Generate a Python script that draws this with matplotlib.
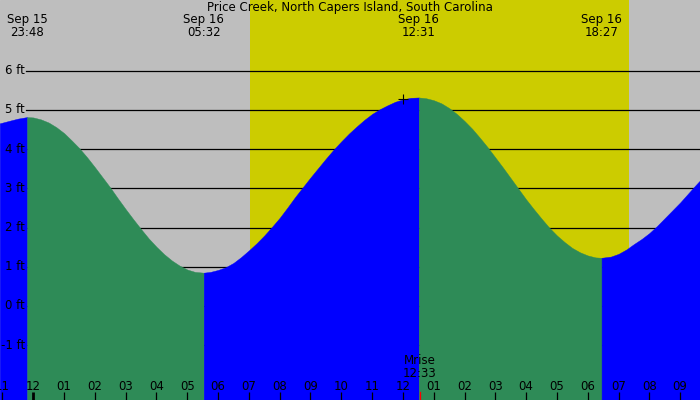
import matplotlib
matplotlib.use("Agg")
import matplotlib.pyplot as plt
import numpy as np

# ---------------------------
# Data
# ---------------------------
title = "Price Creek, North Capers Island, South Carolina"

# tide height (ft) vs hours from Sep 16 00:00
tide_hours = [-1.09, -0.75, -0.5, -0.2, 0.0, 0.25, 0.5, 0.75, 1.0, 1.25, 1.5, 1.75,
              2.0, 2.25, 2.5, 2.75, 3.0, 3.25, 3.5, 3.75, 4.0, 4.25, 4.5, 4.75,
              5.0, 5.25, 5.533,
              5.75, 6.0, 6.25, 6.5, 6.75, 7.0, 7.25, 7.5, 7.75, 8.0, 8.25, 8.5,
              8.75, 9.0, 9.25, 9.5, 9.75, 10.0, 10.25, 10.5, 10.75, 11.0, 11.25,
              11.5, 11.75, 12.0, 12.25, 12.517,
              12.75, 13.0, 13.25, 13.5, 13.75, 14.0, 14.25, 14.5, 14.75, 15.0,
              15.25, 15.5, 15.75, 16.0, 16.25, 16.5, 16.75, 17.0, 17.25, 17.5,
              17.75, 18.0, 18.25, 18.45,
              18.75, 19.0, 19.25, 19.5, 19.75, 20.0, 20.25, 20.5, 20.75, 21.0,
              21.25, 21.5, 21.7]
tide_ft = [4.66, 4.73, 4.78, 4.82, 4.81, 4.76, 4.68, 4.56, 4.41, 4.22, 4.02, 3.79,
           3.54, 3.28, 3.02, 2.74, 2.47, 2.21, 1.96, 1.72, 1.51, 1.32, 1.16, 1.03,
           0.93, 0.87, 0.85,
           0.87, 0.92, 0.99, 1.10, 1.25, 1.42, 1.60, 1.80, 2.02, 2.25, 2.51, 2.78,
           3.03, 3.28, 3.52, 3.76, 3.99, 4.20, 4.40, 4.58, 4.75, 4.90, 5.02,
           5.12, 5.21, 5.27, 5.31, 5.32,
           5.30, 5.25, 5.17, 5.05, 4.90, 4.72, 4.52, 4.29, 4.05, 3.79,
           3.53, 3.26, 2.99, 2.72, 2.47, 2.23, 2.00, 1.80, 1.63, 1.48,
           1.37, 1.29, 1.24, 1.23,
           1.26, 1.33, 1.44, 1.58, 1.71, 1.86, 2.04, 2.24, 2.44, 2.64,
           2.86, 3.08, 3.25]

# high / low tide events
event_hours = [-0.2, 5.533, 12.517, 18.45]
event_labels = ["Sep 15\n23:48", "Sep 16\n05:32", "Sep 16\n12:31", "Sep 16\n18:27"]

sunrise_hour = 7.04
sunset_hour = 19.34
moonrise_hour = 12.55
moonrise_label = "Mrise\n12:33"
marker_hour = 12.0
marker_ft = 5.27

hour_ticks = list(range(-1, 22))
hour_labels = ["11", "12", "01", "02", "03", "04", "05", "06", "07", "08", "09", "10",
               "11", "12", "01", "02", "03", "04", "05", "06", "07", "08", "09"]
ft_levels = [-1, 0, 1, 2, 3, 4, 5, 6]

# colours
bg_gray = "#bebebe"
day_yellow = "#cccc00"
fall_green = "#2e8b57"
rise_blue = "#0000ff"

# ---------------------------
# Figure
# ---------------------------
W, H = 700, 400
fig = plt.figure(figsize=(7, 4), dpi=100)
ax = fig.add_axes([0, 0, 1, 1])
x0, x1 = -1.081, 21.646
y0, y1 = -2.398, 7.806
ax.set_xlim(x0, x1)
ax.set_ylim(y0, y1)
ax.set_axis_off()
ax.add_patch(plt.Rectangle((x0, y0), x1 - x0, y1 - y0, color=bg_gray, zorder=0))
ax.axvspan(sunrise_hour, sunset_hour, color=day_yellow, lw=0, zorder=1)

fs = 8.5
for lev in ft_levels:
    ax.axhline(lev, xmin=26 / W, xmax=1, color="black", lw=0.9, zorder=2)
    ax.text(25 / W, lev, f"{lev} ft", transform=ax.get_yaxis_transform(),
            ha="right", va="center", fontsize=fs, zorder=5)

# tide fill, green while falling, blue while rising
hrs = np.array(tide_hours)
ft = np.array(tide_ft)
bounds = [hrs[0]] + event_hours + [hrs[-1]]
for a, b in zip(bounds[:-1], bounds[1:]):
    m = (hrs >= a - 1e-6) & (hrs <= b + 1e-6)
    seg_h, seg_f = hrs[m], ft[m]
    color = fall_green if seg_f[-1] < seg_f[0] else rise_blue
    ax.fill_between(seg_h, seg_f, y0 - 1, facecolor=color, edgecolor=color,
                    lw=0.3, zorder=3)

ax.plot([marker_hour], [marker_ft], marker="+", color="black", ms=7, mew=0.8, zorder=4)

# labels
ax.text(0.5, 1 - 1 / H, title, transform=ax.transAxes, ha="center", va="top",
        fontsize=fs, zorder=5)
for hr, lab in zip(event_hours, event_labels):
    ax.text(hr, 1 - 13 / H, lab, transform=ax.get_xaxis_transform(), ha="center",
            va="top", fontsize=fs, linespacing=0.95, zorder=5)

xt = ax.get_xaxis_transform()
for hr, lab in zip(hour_ticks, hour_labels):
    ax.text(hr, 14 / H, lab, transform=xt, ha="center", va="center", fontsize=fs, zorder=5)
    lw = 2.0 if hr == 0 else 0.9
    ax.plot([hr, hr], [0, 8 / H], transform=xt, color="black", lw=lw, zorder=5,
            solid_capstyle="butt")
ax.plot([moonrise_hour, moonrise_hour], [0, 8 / H], transform=xt, color="red", lw=0.9, zorder=5)
ax.text(moonrise_hour, 33 / H, moonrise_label, transform=xt, ha="center", va="center",
        fontsize=fs, linespacing=0.95, zorder=5)

fig.savefig("out.png", dpi=100)
